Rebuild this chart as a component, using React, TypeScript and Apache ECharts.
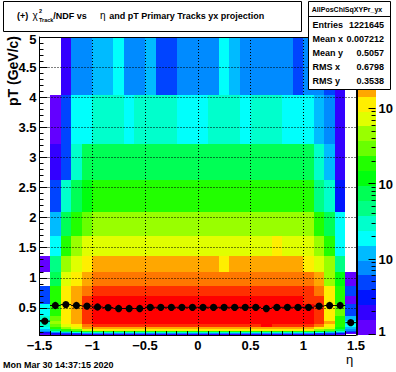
import React, { useEffect, useRef } from "react";
import * as echarts from "echarts";

// ---------- data ----------
const ETA_EDGES = [-1.5, -1.4, -1.3, -1.2, -1.1, -1.0, -0.9, -0.8, -0.7, -0.6, -0.5, -0.4, -0.3, -0.2, -0.1, 0.0, 0.1, 0.2, 0.3, 0.4, 0.5, 0.6, 0.7, 0.8, 0.9, 1.0, 1.1, 1.2, 1.3, 1.4, 1.5];
const PT_EDGES = [0.05, 0.062, 0.078, 0.097, 0.121, 0.150, 0.187, 0.233, 0.290, 0.361, 0.449, 0.559, 0.70, 0.87, 1.09, 1.36, 1.69, 2.10, 2.62, 3.22, 4.03, 5.0];

// counts per eta bin, one array per pT bin (bottom to top)
const ptBin00 = [1, 2, 2, 2, 2, 2, 2, 2, 2, 2, 2, 2, 2, 2, 2, 2, 2, 2, 2, 2, 2, 2, 2, 2, 2, 2, 2, 2, 1, 0];
const ptBin01 = [2, 3, 5, 5, 8, 8, 7, 8, 9, 8, 7, 8, 8, 9, 8, 7, 8, 8, 9, 8, 7, 8, 8, 9, 8, 7, 5, 5, 3, 1];
const ptBin02 = [3, 8, 12, 19, 30, 31, 30, 32, 29, 31, 30, 33, 30, 29, 31, 32, 30, 31, 29, 30, 32, 31, 30, 29, 31, 28, 19, 12, 8, 2];
const ptBin03 = [8, 30, 75, 120, 190, 195, 190, 200, 185, 195, 190, 198, 192, 188, 195, 190, 200, 186, 194, 190, 196, 188, 192, 190, 185, 180, 120, 75, 30, 5];
const ptBin04 = [12, 75, 190, 300, 760, 1200, 1220, 1180, 1250, 1210, 1190, 1230, 1200, 1240, 1210, 1180, 1220, 1200, 1250, 1190, 1210, 1230, 1200, 1180, 1220, 1150, 480, 300, 75, 8];
const ptBin05 = [19, 190, 480, 760, 1900, 1950, 1900, 1980, 1920, 1880, 1950, 1900, 1960, 1920, 1900, 1940, 1880, 1950, 1910, 1900, 1960, 1920, 1900, 1940, 1880, 1850, 1200, 760, 120, 12];
const ptBin06 = [30, 300, 770, 1200, 3000, 4700, 4800, 4650, 4900, 4750, 4850, 4700, 4800, 4900, 4750, 4850, 4700, 4800, 4750, 4900, 4700, 6000, 4800, 4750, 4700, 4600, 3000, 1200, 190, 20];
const ptBin07 = [30, 480, 1250, 2000, 5100, 7600, 7700, 7650, 7750, 7680, 7620, 7720, 7660, 7700, 7740, 7650, 7680, 7720, 7660, 7700, 7640, 7710, 7670, 7690, 7550, 6600, 5000, 1900, 195, 19];
const ptBin08 = [31, 300, 1250, 2000, 5200, 8300, 8400, 8350, 8450, 8380, 8320, 8420, 8360, 8400, 8440, 8350, 8380, 8420, 8360, 8400, 8340, 8410, 8370, 8390, 8250, 6700, 5100, 1270, 200, 12];
const ptBin09 = [20, 195, 1240, 1990, 5100, 7900, 8000, 7950, 8050, 7980, 7920, 8020, 7960, 8000, 8040, 7950, 7980, 8020, 7960, 8000, 7940, 8010, 7970, 7990, 7850, 6500, 5000, 1260, 310, 5];
const ptBin10 = [19, 190, 1230, 1980, 5000, 7300, 7400, 7350, 7450, 7380, 7320, 7420, 7360, 7400, 7440, 7350, 7380, 7420, 7360, 7400, 7340, 7410, 7370, 7390, 7250, 6300, 4900, 1250, 300, 5];
const ptBin11 = [5, 195, 1220, 1960, 4800, 6600, 6750, 6700, 6800, 6650, 6700, 6780, 6680, 6750, 6720, 6660, 6740, 6700, 6770, 6690, 6730, 6680, 6750, 6660, 6500, 5200, 4700, 1220, 190, 1];
const ptBin12 = [5, 190, 1210, 1950, 3050, 4800, 4850, 4750, 4900, 4820, 4780, 4860, 4800, 4880, 4790, 4840, 4810, 4870, 4760, 4830, 4800, 4850, 4780, 4820, 4760, 4700, 3000, 1200, 195, 5];
const ptBin13 = [0, 78, 770, 1200, 1950, 3000, 3050, 2950, 3100, 3020, 2980, 3060, 3000, 3080, 2990, 3040, 3010, 3060, 2970, 3030, 3000, 3050, 2980, 3020, 2950, 2900, 1900, 480, 120, 1];
const ptBin14 = [1, 50, 480, 760, 1200, 1900, 1950, 1850, 1920, 1980, 1900, 1940, 1880, 1960, 1920, 1900, 1950, 1250, 1900, 1940, 1880, 1920, 1960, 1900, 1850, 1150, 760, 470, 48, 0];
const ptBin15 = [0, 20, 195, 480, 760, 770, 760, 780, 750, 770, 765, 780, 760, 775, 770, 760, 780, 765, 770, 760, 775, 770, 1000, 765, 760, 740, 470, 190, 19, 0];
const ptBin16 = [0, 12, 75, 190, 300, 470, 480, 465, 490, 475, 485, 470, 480, 490, 475, 470, 485, 480, 470, 490, 475, 480, 470, 485, 475, 440, 185, 72, 19, 0];
const ptBin17 = [0, 5, 31, 70, 118, 190, 195, 188, 200, 192, 185, 197, 190, 194, 188, 199, 192, 186, 195, 190, 193, 189, 196, 191, 187, 180, 48, 30, 3, 0];
const ptBin18 = [0, 2, 5, 30, 72, 78, 80, 75, 79, 82, 76, 74, 80, 78, 77, 81, 79, 75, 78, 80, 76, 79, 82, 77, 75, 73, 29, 12, 2, 0];
const ptBin19 = [0, 1, 5, 20, 21, 30, 32, 29, 22, 31, 33, 28, 30, 21, 19, 20, 29, 31, 33, 22, 30, 32, 28, 20, 19, 21, 13, 8, 2, 0];
const ptBin20 = [0, 0, 2, 8, 7, 12, 11, 19, 8, 9, 13, 5, 5, 8, 7, 8, 9, 18, 12, 8, 7, 8, 9, 8, 5, 8, 7, 5, 2, 0];
const PT_ROWS = [ptBin00, ptBin01, ptBin02, ptBin03, ptBin04, ptBin05, ptBin06, ptBin07, ptBin08, ptBin09, ptBin10, ptBin11, ptBin12, ptBin13, ptBin14, ptBin15, ptBin16, ptBin17, ptBin18, ptBin19, ptBin20];

// profile: mean pT per eta bin
const PROFILE_MEAN_PT = [0.28, 0.54, 0.555, 0.54, 0.53, 0.515, 0.505, 0.49, 0.49, 0.49, 0.51, 0.51, 0.51, 0.51, 0.51, 0.51, 0.51, 0.51, 0.51, 0.51, 0.51, 0.49, 0.51, 0.51, 0.51, 0.51, 0.53, 0.54, 0.54, 0.255];

// colour scale (log z)
const Z_MIN = 1;
const Z_MAX = 9000;
const N_CONTOURS = 20;
const PALETTE = ["#6300ff", "#3300ff", "#0014ff", "#0044ff", "#008bff", "#00bbff", "#00fffc", "#00ffcc", "#00ff85", "#00ff55", "#00ff0e", "#22ff00", "#69ff00", "#99ff00", "#e0ff00", "#ffee00", "#ffa700", "#ff7700", "#ff3000", "#ff0000"];
const CB_MAJOR_TICKS = [1, 10, 100, 1000];
const CB_MINOR_TICKS = [2, 3, 4, 5, 6, 7, 8, 9, 20, 30, 40, 50, 60, 70, 80, 90, 200, 300, 400, 500, 600, 700, 800, 900, 2000, 3000, 4000, 5000, 6000, 7000, 8000, 9000];

// texts
const STATS_TITLE = "AllPosChiSqXYPr_yx";
const STATS_LABELS = ["Entries", "Mean x", "Mean y", "RMS x", "RMS y"];
const STATS_VALUES = ["1221645", "0.007212", "0.5057", "0.6798", "0.3538"];
const DATE_TEXT = "Mon Mar 30 14:37:15 2020";

const FONT = '"Liberation Sans", Arial, Helvetica, sans-serif';

function colorOf(v: number): string {
  let k = Math.floor((Math.log10(v) / Math.log10(Z_MAX)) * N_CONTOURS);
  if (k < 0) k = 0;
  if (k > N_CONTOURS - 1) k = N_CONTOURS - 1;
  return PALETTE[k];
}

function isDecade(v: number) {
  const l = Math.log10(v);
  return Math.abs(l - Math.round(l)) < 1e-6;
}

export default function App() {
  const ref = useRef<HTMLDivElement>(null);

  useEffect(() => {
    if (!ref.current) return;
    const chart = echarts.init(ref.current, undefined, { renderer: "svg", width: 396, height: 372 });

    const cells: number[][] = [];
    PT_ROWS.forEach((row, r) => {
      row.forEach((v, c) => {
        if (v > 0) cells.push([ETA_EDGES[c], ETA_EDGES[c + 1], PT_EDGES[r], PT_EDGES[r + 1], v]);
      });
    });

    const profile = PROFILE_MEAN_PT.map((m, c) => [
      (ETA_EDGES[c] + ETA_EDGES[c + 1]) / 2,
      m,
      (ETA_EDGES[c + 1] - ETA_EDGES[c]) / 2,
    ]);

    const bands = PALETTE.map((_, k) => [
      0,
      Math.pow(Z_MAX, k / N_CONTOURS),
      Math.pow(Z_MAX, (k + 1) / N_CONTOURS),
      k,
    ]);
    const cbTicks = [
      ...CB_MAJOR_TICKS.map((v) => [1, v, 7]),
      ...CB_MINOR_TICKS.map((v) => [1, v, 4]),
    ];

    const axisLabelBase = {
      color: "#000",
      fontSize: 13,
      fontWeight: "bold",
      fontFamily: FONT,
    };

    const option: any = {
      animation: false,
      backgroundColor: "#fff",
      grid: [
        { left: 39.5, top: 37, width: 316.5, height: 298 },
        { left: 357.5, top: 37, width: 19, height: 298 },
      ],
      xAxis: [
        {
          type: "value",
          gridIndex: 0,
          min: -1.5,
          max: 1.5,
          interval: 0.5,
          position: "bottom",
          z: 10,
          axisLine: { show: true, onZero: false, lineStyle: { color: "#000", width: 1 } },
          axisTick: { show: true, inside: true, length: 8, lineStyle: { color: "#000", width: 1 } },
          minorTick: { show: true, splitNumber: 5, length: 4, lineStyle: { color: "#000", width: 1 } },
          axisLabel: {
            ...axisLabelBase,
            margin: 4,
            formatter: (v: number) => (v < 0 ? "\u2212" + String(Math.abs(v)) : String(v)),
          },
          splitLine: { show: true, lineStyle: { color: "#000", width: 1, type: [1, 2] } },
        },
        {
          type: "value",
          gridIndex: 0,
          min: -1.5,
          max: 1.5,
          position: "top",
          z: 10,
          axisLine: { show: true, onZero: false, lineStyle: { color: "#000", width: 1 } },
          axisTick: { show: false },
          axisLabel: { show: false },
          splitLine: { show: false },
        },
        { type: "value", gridIndex: 1, min: 0, max: 1, show: false },
      ],
      yAxis: [
        {
          type: "value",
          gridIndex: 0,
          min: 0.05,
          max: 5,
          splitNumber: 10,
          position: "left",
          z: 10,
          axisLine: { show: true, onZero: false, lineStyle: { color: "#000", width: 1 } },
          axisTick: { show: true, inside: true, length: 8, lineStyle: { color: "#000", width: 1 } },
          minorTick: { show: true, splitNumber: 5, length: 4, lineStyle: { color: "#000", width: 1 } },
          axisLabel: {
            ...axisLabelBase,
            margin: 3,
            showMinLabel: false,
            formatter: (v: number) => (v === 5 ? "{top|5}" : String(v)),
            rich: { top: { ...axisLabelBase, padding: [5, 0, 0, 0] } },
          },
          splitLine: { show: true, lineStyle: { color: "#000", width: 1, type: [1, 2] } },
        },
        {
          type: "value",
          gridIndex: 0,
          min: 0.05,
          max: 5,
          position: "right",
          z: 10,
          axisLine: { show: true, onZero: false, lineStyle: { color: "#000", width: 1 } },
          axisTick: { show: false },
          axisLabel: { show: false },
          splitLine: { show: false },
        },
        {
          type: "log",
          logBase: 10,
          gridIndex: 1,
          min: Z_MIN,
          max: Z_MAX,
          position: "right",
          z: 10,
          axisLine: { show: true, lineStyle: { color: "#000", width: 1 } },
          axisTick: { show: false },
          minorTick: { show: false },
          splitLine: { show: false },
          axisLabel: {
            ...axisLabelBase,
            margin: 3,
            showMaxLabel: false,
            formatter: (v: number) => (isDecade(v) ? (v === 1 ? "{one|1}" : "10") : ""),
            rich: { one: { ...axisLabelBase, padding: [0, 0, 7, 0] } },
          },
        },
      ],
      series: [
        {
          type: "custom",
          coordinateSystem: "cartesian2d",
          xAxisIndex: 0,
          yAxisIndex: 0,
          z: 1,
          silent: true,
          encode: { x: [0, 1], y: [2, 3] },
          data: cells,
          renderItem: (_p: any, api: any) => {
            const v = api.value(4);
            const a = api.coord([api.value(0), api.value(3)]);
            const b = api.coord([api.value(1), api.value(2)]);
            const x0 = Math.round(a[0]);
            const y0 = Math.round(a[1]);
            const x1 = Math.round(b[0]);
            const y1 = Math.round(b[1]);
            if (y1 - y0 <= 0 || x1 - x0 <= 0) return null;
            return {
              type: "rect",
              shape: { x: x0, y: y0, width: x1 - x0, height: y1 - y0 },
              style: { fill: colorOf(v) },
            };
          },
        },
        {
          type: "custom",
          coordinateSystem: "cartesian2d",
          xAxisIndex: 0,
          yAxisIndex: 0,
          z: 20,
          silent: true,
          encode: { x: 0, y: 1 },
          data: profile,
          renderItem: (_p: any, api: any) => {
            const x = api.value(0);
            const y = api.value(1);
            const h = api.value(2);
            const l = api.coord([x - h, y]);
            const r = api.coord([x + h, y]);
            const c = api.coord([x, y]);
            return {
              type: "group",
              children: [
                { type: "line", shape: { x1: l[0], y1: c[1], x2: r[0], y2: c[1] }, style: { stroke: "#000", lineWidth: 1 } },
                { type: "circle", shape: { cx: c[0], cy: c[1], r: 3.6 }, style: { fill: "#000" } },
              ],
            };
          },
        },
        {
          type: "custom",
          coordinateSystem: "cartesian2d",
          xAxisIndex: 2,
          yAxisIndex: 2,
          z: 1,
          silent: true,
          encode: { x: 0, y: [1, 2] },
          data: bands,
          renderItem: (_p: any, api: any) => {
            const a = api.coord([0, api.value(2)]);
            const b = api.coord([1, api.value(1)]);
            const k = api.value(3);
            const x0 = Math.round(a[0]);
            const y0 = Math.round(a[1]);
            const x1 = Math.round(b[0]);
            const y1 = Math.round(b[1]);
            return {
              type: "rect",
              shape: { x: x0, y: y0, width: x1 - x0, height: y1 - y0 },
              style: { fill: PALETTE[k] },
            };
          },
        },
        {
          type: "custom",
          coordinateSystem: "cartesian2d",
          xAxisIndex: 2,
          yAxisIndex: 2,
          z: 20,
          silent: true,
          encode: { x: 0, y: 1 },
          data: cbTicks,
          renderItem: (_p: any, api: any) => {
            const p = api.coord([1, api.value(1)]);
            const len = api.value(2);
            const y = Math.round(p[1]) - 0.5;
            return {
              type: "line",
              shape: { x1: p[0] - len, y1: y, x2: p[0], y2: y },
              style: { stroke: "#000", lineWidth: 1 },
            };
          },
        },
      ],
      graphic: [
        // title pave
        { type: "rect", z: 100, shape: { x: 3.5, y: 1.5, width: 298, height: 30 }, style: { fill: "#fff", stroke: "#000", lineWidth: 1 } },
        { type: "text", z: 101, x: 17, y: 16, style: { text: "(+)", fill: "#000", fontSize: 9, fontWeight: "bold", fontFamily: FONT, align: "left", verticalAlign: "middle" } },
        { type: "text", z: 101, x: 32.5, y: 15.5, style: { text: "\u03c7", fill: "#000", fontSize: 10, fontFamily: FONT, align: "left", verticalAlign: "middle" } },
        { type: "text", z: 101, x: 39, y: 11, style: { text: "2", fill: "#000", fontSize: 5.5, fontWeight: "bold", fontFamily: FONT, align: "left", verticalAlign: "middle" } },
        { type: "text", z: 101, x: 39, y: 19.5, style: { text: "Track", fill: "#000", fontSize: 5.5, fontWeight: "bold", fontFamily: FONT, align: "left", verticalAlign: "middle" } },
        { type: "text", z: 101, x: 53.3, y: 16, style: { text: "/NDF vs", fill: "#000", fontSize: 9, fontWeight: "bold", fontFamily: FONT, align: "left", verticalAlign: "middle" } },
        { type: "text", z: 101, x: 100, y: 15.5, style: { text: "\u03b7", fill: "#000", fontSize: 10, fontFamily: FONT, align: "left", verticalAlign: "middle" } },
        { type: "text", z: 101, x: 109.3, y: 16, style: { text: "and pT Primary Tracks yx projection", fill: "#000", fontSize: 9, fontWeight: "bold", fontFamily: FONT, align: "left", verticalAlign: "middle" } },
        // stats box
        { type: "rect", z: 100, shape: { x: 308.5, y: 1.5, width: 82, height: 88 }, style: { fill: "#fff", stroke: "#000", lineWidth: 1 } },
        { type: "line", z: 101, shape: { x1: 308.5, y1: 16.5, x2: 390.5, y2: 16.5 }, style: { stroke: "#000", lineWidth: 1 } },
        { type: "text", z: 101, x: 347, y: 9.5, style: { text: STATS_TITLE, fill: "#000", fontSize: 7, fontWeight: "bold", fontFamily: FONT, align: "center", verticalAlign: "middle" } },
        ...STATS_LABELS.map((t, i) => ({
          type: "text", z: 101, x: 312.5, y: 25 + i * 14,
          style: { text: t, fill: "#000", fontSize: 9, fontWeight: "bold", fontFamily: FONT, align: "left", verticalAlign: "middle" },
        })),
        ...STATS_VALUES.map((t, i) => ({
          type: "text", z: 101, x: 384, y: 25 + i * 14,
          style: { text: t, fill: "#000", fontSize: 9, fontWeight: "bold", fontFamily: FONT, align: "right", verticalAlign: "middle" },
        })),
        // axis titles
        { type: "text", z: 101, x: 12.5, y: 36, rotation: Math.PI / 2, style: { text: "pT (GeV/c)", fill: "#000", fontSize: 14, fontWeight: "bold", fontFamily: FONT, align: "right", verticalAlign: "middle" } },
        { type: "text", z: 101, x: 349.5, y: 359.5, style: { text: "\u03b7", fill: "#000", fontSize: 13, fontFamily: FONT, align: "center", verticalAlign: "middle" } },
        // date
        { type: "text", z: 101, x: 3, y: 365, style: { text: DATE_TEXT, fill: "#000", fontSize: 9, fontWeight: "bold", fontFamily: FONT, align: "left", verticalAlign: "middle" } },
      ],
    };

    chart.setOption(option);
    return () => chart.dispose();
  }, []);

  return (
    <div
      ref={ref}
      style={{ position: "absolute", left: 0, top: 0, width: 396, height: 372, background: "#fff" }}
    />
  );
}
